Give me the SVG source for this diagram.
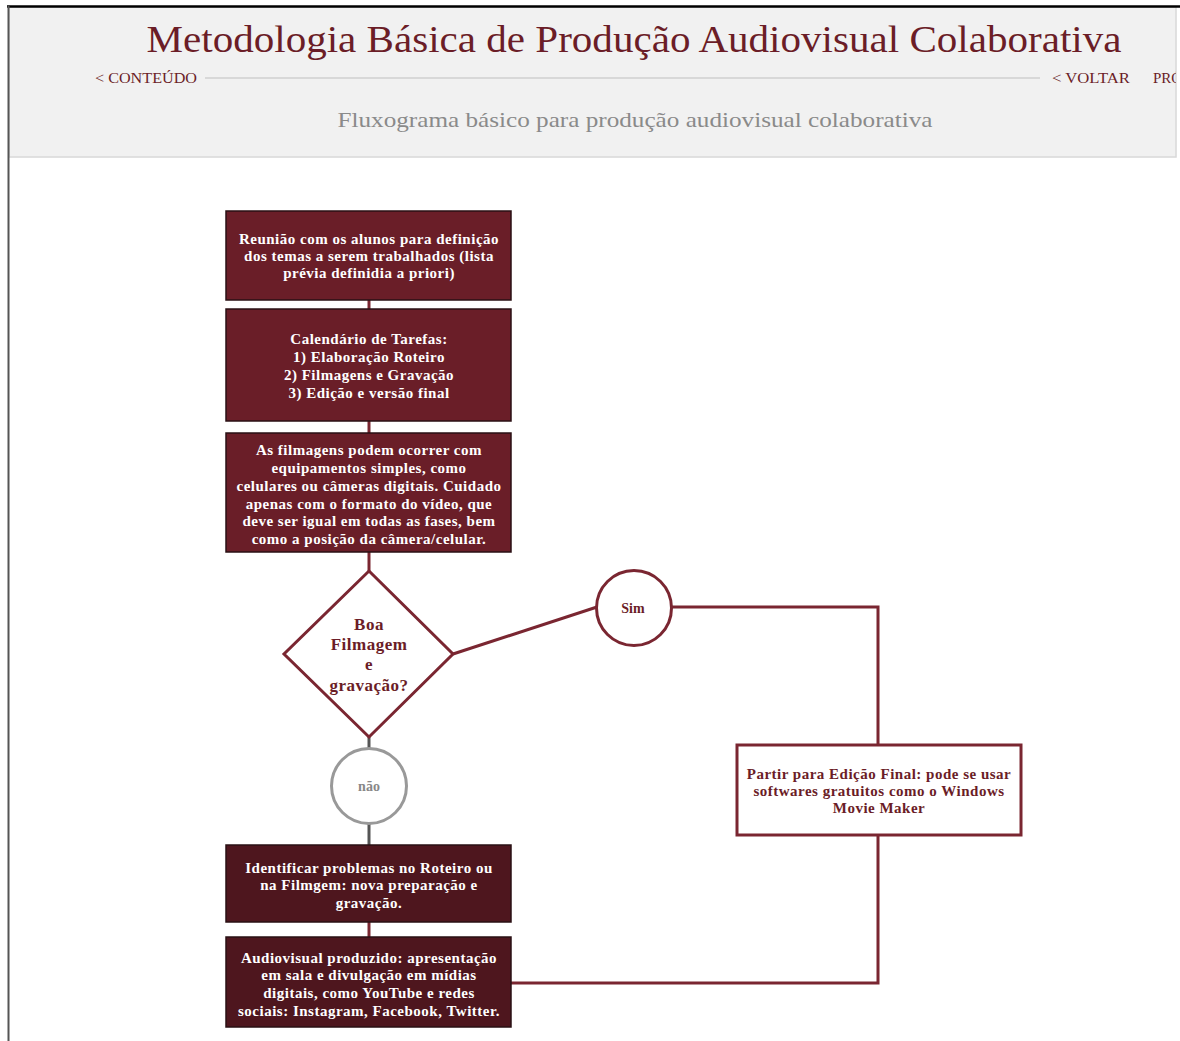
<svg xmlns="http://www.w3.org/2000/svg" width="1180" height="1041" viewBox="0 0 1180 1041">
<defs>
<style>
.box{fill:#6a1e28;stroke:#2a1014;stroke-width:1.5}
.box2{fill:#4e161e;stroke:#2a1014;stroke-width:1.5}
.wt{font-family:"Liberation Serif",serif;font-weight:bold;font-size:15px;letter-spacing:0.5px;fill:#ffffff;text-anchor:middle}
.rt{font-family:"Liberation Serif",serif;font-weight:bold;font-size:15px;letter-spacing:0.5px;fill:#6b1d27;text-anchor:middle}
.ln{fill:none;stroke:#7a2631;stroke-width:3}
.gln{fill:none;stroke:#555555;stroke-width:3}
.nav{font-family:"Liberation Serif",serif;font-size:15px;fill:#6b1d27}
</style>
<clipPath id="hdr"><rect x="9" y="8" width="1167" height="149"/></clipPath>
</defs>
<rect width="1180" height="1041" fill="#ffffff"/>
<g id="header">
<rect x="9" y="7" width="1167" height="150" fill="#f1f1f1" stroke="#d8d8d8" stroke-width="1.5"/>
<line x1="7" y1="6.5" x2="1180" y2="6.5" stroke="#000000" stroke-width="2.5"/>
<line x1="8.5" y1="6" x2="8.5" y2="1041" stroke="#555555" stroke-width="2"/>
<text x="634" y="52" font-family="Liberation Serif,serif" font-size="38" fill="#6b1d27" text-anchor="middle" textLength="975" lengthAdjust="spacingAndGlyphs">Metodologia Básica de Produção Audiovisual Colaborativa</text>
<text class="nav" x="95" y="83" textLength="102" lengthAdjust="spacingAndGlyphs">&lt; CONTEÚDO</text>
<line x1="205" y1="78" x2="1040" y2="78" stroke="#cfcfcf" stroke-width="1.5"/>
<text class="nav" x="1052" y="83" textLength="78" lengthAdjust="spacingAndGlyphs">&lt; VOLTAR</text>
<g clip-path="url(#hdr)"><text class="nav" x="1153" y="83">PRÓXIMO &gt;</text></g>
<text x="635" y="127" font-family="Liberation Serif,serif" font-size="22" fill="#8a8a8a" text-anchor="middle" textLength="595" lengthAdjust="spacingAndGlyphs">Fluxograma básico para produção audiovisual colaborativa</text>
</g>
<g id="connectors">
<line class="ln" x1="369" y1="300" x2="369" y2="309"/>
<line class="ln" x1="369" y1="421" x2="369" y2="433"/>
<line class="ln" x1="369" y1="552" x2="369" y2="571"/>
<line class="ln" x1="453" y1="654" x2="597" y2="607"/>
<polyline class="ln" points="672,607 878,607 878,745"/>
<polyline class="ln" points="878,835 878,983 511,983"/>
<line class="gln" x1="369" y1="737" x2="369" y2="748"/>
<line class="gln" x1="369" y1="824" x2="369" y2="845"/>
<line class="ln" x1="369" y1="922" x2="369" y2="937"/>
</g>
<g id="n1">
<rect class="box" x="226" y="211" width="285" height="89"/>
<text class="wt" x="369" y="244">Reunião com os alunos para definição</text>
<text class="wt" x="369" y="261">dos temas a serem trabalhados (lista</text>
<text class="wt" x="369" y="278">prévia definidia a priori)</text>
</g>
<g id="n2">
<rect class="box" x="226" y="309" width="285" height="112"/>
<text class="wt" x="369" y="344">Calendário de Tarefas:</text>
<text class="wt" x="369" y="362">1) Elaboração Roteiro</text>
<text class="wt" x="369" y="380">2) Filmagens e Gravação</text>
<text class="wt" x="369" y="398">3) Edição e versão final</text>
</g>
<g id="n3">
<rect class="box" x="226" y="433" width="285" height="119"/>
<text class="wt" x="369" y="455">As filmagens podem ocorrer com</text>
<text class="wt" x="369" y="473">equipamentos simples, como</text>
<text class="wt" x="369" y="491">celulares ou câmeras digitais. Cuidado</text>
<text class="wt" x="369" y="509">apenas com o formato do vídeo, que</text>
<text class="wt" x="369" y="526">deve ser igual em todas as fases, bem</text>
<text class="wt" x="369" y="544">como a posição da câmera/celular.</text>
</g>
<g id="decision">
<polygon points="369,571 453,654 369,737 284,654" fill="#ffffff" stroke="#7a2631" stroke-width="3"/>
<text class="rt" x="369" y="630" style="font-size:17px">Boa</text>
<text class="rt" x="369" y="650" style="font-size:17px">Filmagem</text>
<text class="rt" x="369" y="670" style="font-size:17px">e</text>
<text class="rt" x="369" y="691" style="font-size:17px">gravação?</text>
</g>
<g id="sim">
<circle cx="634" cy="608" r="37.5" fill="#ffffff" stroke="#7a2631" stroke-width="3"/>
<text class="rt" x="633" y="613" style="font-size:14px;letter-spacing:0">Sim</text>
</g>
<g id="nao">
<circle cx="369" cy="786" r="37.5" fill="#ffffff" stroke="#999999" stroke-width="3"/>
<text class="rt" x="369" y="791" style="font-size:14px;letter-spacing:0;fill:#888888">não</text>
</g>
<g id="n4">
<rect x="737" y="745" width="284" height="90" fill="#ffffff" stroke="#7a2631" stroke-width="3"/>
<text class="rt" x="879" y="779">Partir para Edição Final: pode se usar</text>
<text class="rt" x="879" y="796">softwares gratuitos como o Windows</text>
<text class="rt" x="879" y="813">Movie Maker</text>
</g>
<g id="n5">
<rect class="box2" x="226" y="845" width="285" height="77"/>
<text class="wt" x="369" y="873">Identificar problemas no Roteiro ou</text>
<text class="wt" x="369" y="890">na Filmgem: nova preparação e</text>
<text class="wt" x="369" y="908">gravação.</text>
</g>
<g id="n6">
<rect class="box2" x="226" y="937" width="285" height="90"/>
<text class="wt" x="369" y="963">Audiovisual produzido: apresentação</text>
<text class="wt" x="369" y="980">em sala e divulgação em mídias</text>
<text class="wt" x="369" y="998">digitais, como YouTube e redes</text>
<text class="wt" x="369" y="1016">sociais: Instagram, Facebook, Twitter.</text>
</g>
</svg>
